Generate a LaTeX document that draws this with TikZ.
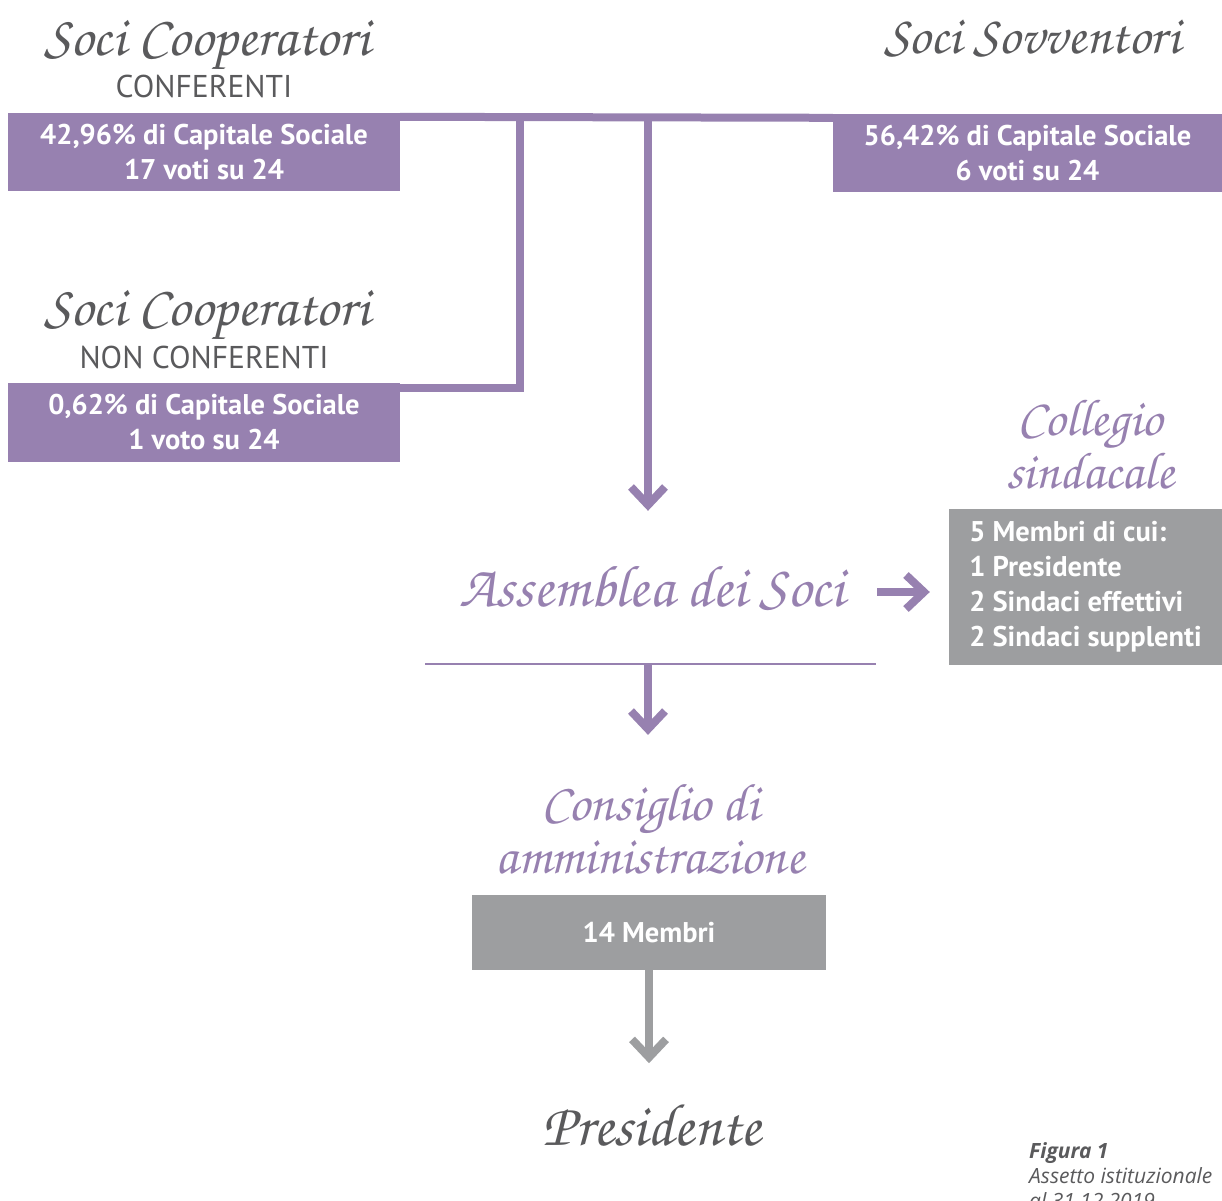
\documentclass[tikz,border=0pt]{standalone}
\usepackage{fontspec}
\usetikzlibrary{arrows.meta,positioning}
\newfontfamily\handfont{texgyrechorus-mediumitalic.otf}
\newfontfamily\boxfont{PT Sans}
\newfontfamily\capfont{Open Sans}
\definecolor{soci}{RGB}{151,129,176}
\definecolor{boxgray}{RGB}{157,158,160}
\definecolor{inkgray}{RGB}{90,90,92}

\begin{document}
\begin{tikzpicture}[x=1pt,y=-1pt,
  link/.style={draw=soci,line width=8pt},
  greylink/.style={draw=boxgray,line width=8pt},
  chev/.style={-{Straight Barb[length=18pt,width=34pt]}},
  socibox/.style={fill=soci,text=white,inner sep=0pt,align=center,
    font=\boxfont\bfseries\fontsize{28.5}{35}\selectfont},
  greybox/.style={fill=boxgray,text=white,inner sep=0pt,
    font=\boxfont\bfseries\fontsize{28.5}{35}\selectfont},
  hand/.style={anchor=base,inner sep=0pt,align=center,
    font=\handfont\fontsize{#1}{53}\selectfont},
  hand/.default=54,
  sub/.style={anchor=base,inner sep=0pt,text=inkgray,
    font=\boxfont\fontsize{31.5}{34}\selectfont}]
  \useasboundingbox (0,0) rectangle (1222,1200);
  \clip (0,0) rectangle (1222,1200);

  % shareholders
  \node[hand=56.5,text=inkgray] (coop) at (207,55) {Soci Cooperatori};
  \node[sub] (coopsub) at (204,97) {CONFERENTI};
  \node[hand=54,text=inkgray] (sov) at (1032,53) {Soci Sovventori};
  \node[hand=56.5,text=inkgray] (noncoop) at (207,325) {Soci Cooperatori};
  \node[sub] (noncoopsub) at (204,368) {NON CONFERENTI};

  \node[socibox,minimum width=392pt,minimum height=78pt] (capcoop) at (204,152)
    {42,96\% di Capitale Sociale\\17 voti su 24};
  \node[socibox,minimum width=389pt,minimum height=78pt] (capsov) at (1027.5,153)
    {56,42\% di Capitale Sociale\\6 voti su 24};
  \node[socibox,minimum width=392pt,minimum height=79pt] (capnon) at (204,422.5)
    {0,62\% di Capitale Sociale\\1 voto su 24};

  % bus lines
  \coordinate (joinA) at (520,117);
  \coordinate (joinB) at (648,117);
  \draw[link] ([yshift=-4pt]capcoop.north east) -- ([yshift=-4pt]capsov.north west);
  \draw[link] ([yshift=-5pt]capnon.north east) -| ([yshift=-4pt]joinA);

  % assembly
  \node[hand=59,text=soci] (assemblea) at (652,606) {Assemblea dei Soci};
  \coordinate (rulewest) at (425,664);
  \coordinate (ruleeast) at (876,664);
  \draw[draw=soci,line width=2.5pt] (rulewest) -- (ruleeast);
  \draw[link,chev,shorten >=55pt] ([yshift=-4pt]joinB) -- (joinB |- assemblea.north);

  % auditors
  \node[hand=52,text=soci] (collegio) at (1090,488) {Collegio\\sindacale};
  \node[greybox,align=left,minimum width=273pt,minimum height=156pt] (collbox) at (1085.5,587)
    {5 Membri di cui:\\1 Presidente\\2 Sindaci effettivi\\2 Sindaci supplenti};
  \draw[link,chev,shorten >=19pt] (877,592) -- (collbox.west |- 0,592);

  % board
  \node[hand=53,text=soci] (consiglio) at (650,873) {Consiglio di\\amministrazione};
  \node[greybox,minimum width=354pt,minimum height=75pt] (membri) at (649,932.5) {14 Membri};
  \draw[link,chev,shorten >=49pt] (rulewest -| joinB) -- (joinB |- consiglio.north);

  % chairman
  \node[hand=60,text=inkgray] (presidente) at (652,1145) {Presidente};
  \draw[greylink,chev,shorten >=41pt] (membri.south) -- (membri.south |- presidente.north);

  % caption
  \node[anchor=base west,inner sep=0pt,align=left,text=inkgray,
    font=\capfont\itshape\fontsize{21}{25}\selectfont] (caption) at (1029,1208)
    {\textbf{Figura 1}\\Assetto istituzionale\\al 31.12.2019};
\end{tikzpicture}
\end{document}
